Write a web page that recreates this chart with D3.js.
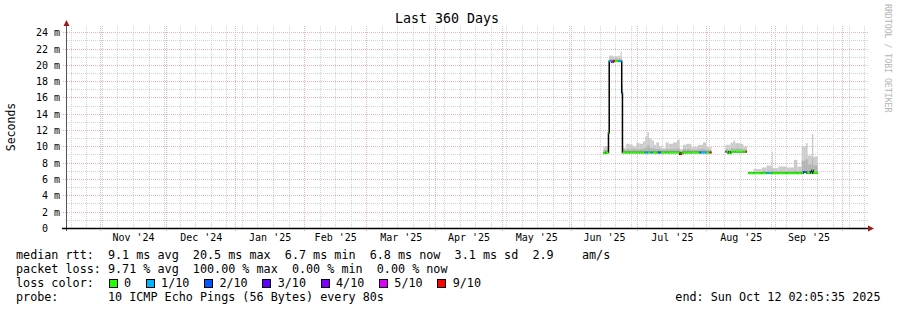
<!DOCTYPE html>
<html>
<head>
<meta charset="utf-8">
<script src="https://cdn.jsdelivr.net/npm/d3@7"></script>
<style>
body { margin: 0; background: #fff; }
svg { display: block; font-family: "DejaVu Sans Mono", monospace; }
text { white-space: pre; }
</style>
</head>
<body>
<div id="chart"></div>
<script>
// sample start times (UTC hour), each value holds until the next sample
const sampleTimes = [
  "2025-06-15T10","2025-06-16T14","2025-06-17T18","2025-06-18T02","2025-06-19T04",
  "2025-06-19T22","2025-06-20T16","2025-06-22T04","2025-06-23T05","2025-06-23T17",
  "2025-06-24T01","2025-06-25T18","2025-06-27T07","2025-06-28T18","2025-06-30T06",
  "2025-07-01T19","2025-07-03T06","2025-07-04T01","2025-07-04T07","2025-07-05T05",
  "2025-07-05T12","2025-07-05T23","2025-07-06T17","2025-07-07T00","2025-07-07T15",
  "2025-07-08T05","2025-07-09T06","2025-07-10T00","2025-07-10T12","2025-07-11T05",
  "2025-07-11T19","2025-07-13T12","2025-07-14T20","2025-07-16T19","2025-07-18T14",
  "2025-07-19T19","2025-07-20T14","2025-07-21T07","2025-07-22T18","2025-07-25T00",
  "2025-07-28T00","2025-07-28T19","2025-07-29T09","2025-07-30T07","2025-07-31T18",
  "2025-08-02T07","2025-08-03T02","2025-08-09T10","2025-08-09T19","2025-08-10T16",
  "2025-08-11T17","2025-08-12T22","2025-08-13T19","2025-08-15T22","2025-08-17T10",
  "2025-08-18T12","2025-08-19T02","2025-08-19T16","2025-08-21T22","2025-08-25T17",
  "2025-08-27T22","2025-08-29T10","2025-08-30T05","2025-08-30T14","2025-09-02T04",
  "2025-09-05T22","2025-09-09T05","2025-09-10T17","2025-09-12T17","2025-09-13T10",
  "2025-09-14T14","2025-09-14T22","2025-09-15T05","2025-09-16T10","2025-09-16T20",
  "2025-09-17T07","2025-09-17T22","2025-09-19T22"
]
// median rtt in ms
const medianMs = [
  9.2, 9.3, 11.7, 20.5, 20.4, 20.5, 20.5, 20.5, 20.5, 16.6,
  9.3, 9.3, 9.3, 9.3, 9.3, 9.3, 9.3, 9.3, 9.3, 9.3,
  9.3, 9.3, 9.3, 9.3, 9.3, 9.3, 9.3, 9.3, 9.3, 9.3,
  9.3, 9.3, 9.3, 9.3, 9.3, 9.1, 9.2, 9.3, 9.3, 9.3,
  9.3, 9.3, 9.3, 9.3, 9.3, 9.3, null, 9.4, 9.4, 9.2,
  9.4, 9.4, 9.4, 9.4, 9.4, 9.4, null, 6.75, 6.75, 6.75,
  6.8, 6.75, 6.75, 6.75, 6.75, 6.75, 6.75, 6.75, 6.8, 6.9,
  6.9, 6.8, 6.8, 6.9, 6.8, 7.1, 6.8, null
]
// top of the smoke (slowest ping) in ms
const smokeTopMs = [
  10.0, 10.1, 11.9, 21.2, 21.2, 21.1, 21.1, 21.2, 21.7, 17.6,
  9.85, 10.37, 10.25, 10.04, 10.45, 10.37, 10.65, 10.65, 11.26, 11.8,
  11.8, 11.07, 11.07, 10.77, 10.77, 10.25, 10.53, 10.53, 10.12, 10.12,
  9.84, 10.53, 10.37, 10.53, 10.86, 9.72, 9.72, 10.25, 10.37, 9.96,
  10.25, 10.25, 10.25, 10.53, 9.96, 9.96, null, 10.25, 10.25, 10.25,
  10.5, 10.77, 10.45, 10.37, 10.04, 10.04, null, 6.97, 7.26, 7.46,
  7.7, 7.7, 9.42, 7.38, 7.58, 7.46, 8.4, 7.58, 10.04, 10.04,
  10.45, 10.45, 8.93, 8.93, 8.93, 11.56, 8.8, null
]
// top of the darker inner smoke in ms
const smokeMidMs = [
  9.6, 9.6, 11.8, 20.8, 20.8, 20.8, 20.8, 20.8, 20.9, 17.0,
  9.6, 9.7, 9.7, 9.7, 9.7, 9.7, 9.8, 9.8, 9.9, 10.2,
  10.2, 9.9, 9.9, 9.8, 9.8, 9.7, 9.7, 9.7, 9.7, 9.7,
  9.6, 9.7, 9.7, 9.7, 9.8, 9.4, 9.5, 9.7, 9.7, 9.6,
  9.7, 9.7, 9.7, 9.7, 9.6, 9.6, null, 9.7, 9.7, 9.6,
  9.8, 9.8, 9.8, 9.7, 9.7, 9.7, null, 6.85, 6.9, 7.0,
  7.0, 7.0, 7.3, 7.0, 7.0, 7.0, 7.1, 7.0, 8.3, 8.3,
  8.5, 8.5, 7.8, 7.8, 7.8, 8.6, 7.7, null
]
// loss colour bin per sample
const lossBin = [
  0, 0, 0, 1, 5, 6, 0, 1, 1, 1,
  0, 0, 0, 0, 0, 0, 0, 1, 1, 1,
  0, 0, 1, 1, 0, 0, 0, 2, 2, 0,
  0, 0, 0, 0, 0, 6, 0, 0, 0, 0,
  0, 2, 1, 1, 0, 6, null, 3, 0, 0,
  0, 0, 0, 0, 0, 6, null, 0, 0, 0,
  1, 0, 0, 0, 0, 0, 0, 0, 0, 2,
  1, 0, 0, 3, 0, 0, 0, null
]

const lossColors = ["#26ff00", "#00b8ff", "#0059ff", "#5e00ff", "#7e00ff", "#dd00ff", "#ff0000"]
const lossLabels = ["0", "1/10", "2/10", "3/10", "4/10", "5/10", "9/10"]

const yTicks = [0, 2, 4, 6, 8, 10, 12, 14, 16, 18, 20, 22, 24]
const yTickLabels = ["0  ", "2 m", "4 m", "6 m", "8 m", "10 m", "12 m", "14 m", "16 m", "18 m", "20 m", "22 m", "24 m"]
const yMinor = [1, 3, 5, 7, 9, 11, 13, 15, 17, 19, 21, 23]

const monthStarts = ["2024-11-01", "2024-12-01", "2025-01-01", "2025-02-01", "2025-03-01", "2025-04-01",
  "2025-05-01", "2025-06-01", "2025-07-01", "2025-08-01", "2025-09-01", "2025-10-01"]
const monthLabels = ["Nov '24", "Dec '24", "Jan '25", "Feb '25", "Mar '25", "Apr '25",
  "May '25", "Jun '25", "Jul '25", "Aug '25", "Sep '25"]

const legendRtt = "median rtt:  9.1 ms avg  20.5 ms max  6.7 ms min  6.8 ms now  3.1 ms sd  2.9    am/s"
const legendLoss = "packet loss: 9.71 % avg  100.00 % max  0.00 % min  0.00 % now"
const legendProbe = "probe:       10 ICMP Echo Pings (56 Bytes) every 80s"
const legendEnd = "end: Sun Oct 12 02:05:35 2025"

const width = 897, height = 310
const parseHour = d3.utcParse("%Y-%m-%dT%H")
const parseDay = d3.utcParse("%Y-%m-%d")
const parseFull = d3.utcParse("%Y-%m-%dT%H:%M:%S")

const x = d3.scaleUtc()
  .domain([parseFull("2024-10-17T02:05:35"), parseFull("2025-10-12T02:05:35")])
  .range([67, 867])
const y = d3.scaleLinear().domain([0, 24]).range([228.3, 32.7])
const px = v => Math.floor(v) + 0.5

const svg = d3.select("#chart").append("svg")
  .attr("width", width)
  .attr("height", height)

// grid
const grid = svg.append("g").attr("fill", "none").attr("stroke-dasharray", "1,1")

const weeks = d3.utcSaturday.range(x.domain()[0], x.domain()[1])
grid.selectAll(".wk").data(weeks).enter().append("line")
  .attr("x1", d => px(x(d))).attr("x2", d => px(x(d)))
  .attr("y1", 26).attr("y2", 228)
  .attr("stroke", "#d2d2d2")

grid.selectAll(".hmin").data(yMinor).enter().append("line")
  .attr("x1", 67).attr("x2", 868)
  .attr("y1", d => px(y(d))).attr("y2", d => px(y(d)))
  .attr("stroke", "#d2d2d2")

grid.selectAll(".hmaj").data(yTicks.slice(1)).enter().append("line")
  .attr("x1", 63).attr("x2", 868)
  .attr("y1", d => px(y(d))).attr("y2", d => px(y(d)))
  .attr("stroke", "#f0b4b4")

const months = monthStarts.map(parseDay)
grid.selectAll(".mon").data(months).enter().append("line")
  .attr("x1", d => px(x(d))).attr("x2", d => px(x(d)))
  .attr("y1", 26).attr("y2", 231)
  .attr("stroke", "#f0b4b4")

// data
const pts = sampleTimes.map((t, i) => ({
  t: parseHour(t), med: medianMs[i], top: smokeTopMs[i], mid: smokeMidMs[i], loss: lossBin[i]
}))
const spans = pts.slice(0, -1)
  .map((p, i) => Object.assign({}, p, { t1: pts[i + 1].t }))
  .filter(d => d.med != null)

svg.append("g").selectAll("rect").data(spans).enter().append("rect")
  .attr("x", d => x(d.t))
  .attr("width", d => Math.max(1, x(d.t1) - x(d.t)))
  .attr("y", d => y(d.top))
  .attr("height", d => y(d.med) - y(d.top))
  .attr("fill", "#cbcbcb")

svg.append("g").selectAll("rect").data(spans).enter().append("rect")
  .attr("x", d => x(d.t))
  .attr("width", d => Math.max(1, x(d.t1) - x(d.t)))
  .attr("y", d => y(d.mid))
  .attr("height", d => y(d.med) - y(d.mid))
  .attr("fill", "#b4b4b4")

// black step line under the coloured median
const stepPts = []
spans.forEach((s, i) => {
  stepPts.push({ t: s.t, v: s.med }, { t: s.t1, v: s.med })
  const next = spans[i + 1]
  if (next && +next.t !== +s.t1) stepPts.push({ t: s.t1, v: null })
})
const stepLine = d3.line()
  .defined(d => d.v != null)
  .x(d => x(d.t))
  .y(d => y(d.v))
svg.append("path")
  .attr("d", stepLine(stepPts))
  .attr("fill", "none")
  .attr("stroke", "#000")
  .attr("stroke-width", 1.5)

svg.append("g").selectAll("line").data(spans).enter().append("line")
  .attr("x1", d => x(d.t)).attr("x2", d => x(d.t1))
  .attr("y1", d => y(d.med)).attr("y2", d => y(d.med))
  .attr("stroke", d => lossColors[d.loss])
  .attr("stroke-width", 2)

// axes
svg.append("line")
  .attr("x1", 66.5).attr("x2", 66.5).attr("y1", 24).attr("y2", 231)
  .attr("stroke", "#555")
svg.append("line")
  .attr("x1", 62).attr("x2", 869).attr("y1", 228.5).attr("y2", 228.5)
  .attr("stroke", "#000").attr("stroke-width", 1.5)
svg.append("path").attr("d", "M63.5,26 L69.5,26 L66.5,20 Z").attr("fill", "#a01818")
svg.append("path").attr("d", "M868,225.5 L868,231.5 L874,228.5 Z").attr("fill", "#a01818")

svg.append("g").selectAll("text").data(yTicks).enter().append("text")
  .attr("x", 60)
  .attr("y", d => y(d) + 3.5)
  .attr("text-anchor", "end")
  .attr("font-size", 10)
  .attr("fill", "#000")
  .text((d, i) => yTickLabels[i])

svg.append("g").selectAll("text").data(monthLabels).enter().append("text")
  .attr("x", (d, i) => (x(months[i]) + x(months[i + 1])) / 2)
  .attr("y", 241)
  .attr("text-anchor", "middle")
  .attr("font-size", 10)
  .attr("fill", "#000")
  .text(d => d)

// titles
svg.append("text")
  .attr("x", 447).attr("y", 23.3)
  .attr("text-anchor", "middle")
  .attr("font-size", 13.3)
  .text("Last 360 Days")

svg.append("text")
  .attr("transform", "translate(15,127) rotate(-90)")
  .attr("text-anchor", "middle")
  .attr("font-size", 11.5)
  .text("Seconds")

svg.append("text")
  .attr("transform", "translate(885,4) rotate(90)")
  .attr("font-size", 8.2)
  .attr("fill", "#b4b4b4")
  .text("RRDTOOL / TOBI OETIKER")

// legend
const charW = 7.08
const rowY = [259.3, 273.2, 287.1, 301]
const legend = svg.append("g").attr("font-size", 11.76).attr("fill", "#000")
legend.append("text").attr("x", 16).attr("y", rowY[0]).text(legendRtt)
legend.append("text").attr("x", 16).attr("y", rowY[1]).text(legendLoss)
legend.append("text").attr("x", 16).attr("y", rowY[2]).text("loss color:")
legend.append("text").attr("x", 16).attr("y", rowY[3]).text(legendProbe)
legend.append("text").attr("x", 880.5).attr("y", rowY[3]).attr("text-anchor", "end").text(legendEnd)

let bx = 108.5
lossLabels.forEach((lab, i) => {
  legend.append("rect")
    .attr("x", Math.round(bx) + 0.5).attr("y", 279.5)
    .attr("width", 8).attr("height", 8)
    .attr("fill", lossColors[i]).attr("stroke", "#000")
  legend.append("text").attr("x", bx + 15.5).attr("y", rowY[2]).text(lab)
  bx = bx + 15.5 + lab.length * charW + 14.5
})
</script>
</body>
</html>
